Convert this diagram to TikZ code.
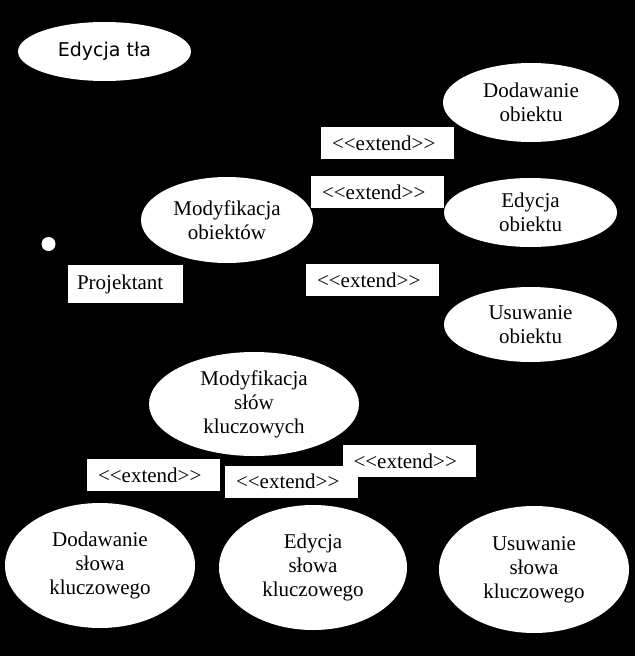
\documentclass[tikz,border=0pt]{standalone}
\usepackage{fontspec}
\setmainfont{LiberationSerif}[Extension=.ttf, UprightFont=*-Regular]
\newfontfamily\titlesans{DejaVu Sans}
\usetikzlibrary{shapes.geometric}
\newcommand{\extlbl}{<\kern0pt<extend>\kern0pt>}

\begin{document}
\begin{tikzpicture}[x=1pt, y=-1pt,
  usecase/.style={ellipse, fill=white, inner sep=0pt, align=center,
    font=\rmfamily\fontsize{21}{24}\selectfont},
  note/.style={fill=white, inner ysep=0pt, inner xsep=11pt, text width=111pt,
    minimum height=32pt, align=left, font=\rmfamily\fontsize{21}{24}\selectfont}]
  % Background
  \useasboundingbox (0,0) rectangle (635,656);
  \fill[black] (0,0) rectangle (635,656);
  % Background editing
  \node[usecase, minimum width=173pt, minimum height=59pt,
    font=\titlesans\fontsize{19}{23}\selectfont] (bgedit) at (104.5,51.5) {Edycja tła};
  % Actor
  \node[circle, fill=white, inner sep=0pt, minimum size=14pt] (head) at (48.5,244) {};
  \node[note, text width=97pt, inner xsep=9pt, minimum height=38pt] (actor) at (125.5,284) {Projektant};
  % Object use cases
  \node[usecase, minimum width=172pt, minimum height=86pt] (modobj) at (227,220) {Modyfikacja\\obiektów};
  \node[usecase, minimum width=176pt, minimum height=79pt] (addobj) at (531,102.5) {Dodawanie\\obiektu};
  \node[usecase, minimum width=173pt, minimum height=69pt] (editobj) at (530.5,212.5) {Edycja\\obiektu};
  \node[usecase, minimum width=173pt, minimum height=75pt] (delobj) at (530.5,324.5) {Usuwanie\\obiektu};
  \node[note] (extaddobj) at (387.5,143) {\extlbl};
  \node[note] (exteditobj) at (377.5,192) {\extlbl};
  \node[note] (extdelobj) at (372.5,280) {\extlbl};
  % Keyword use cases
  \node[usecase, minimum width=210pt, minimum height=104pt] (modkey) at (254,404) {Modyfikacja\\słów\\kluczowych};
  \node[usecase, minimum width=190pt, minimum height=125pt] (addkey) at (100,565.5) {Dodawanie\\słowa\\kluczowego};
  \node[usecase, minimum width=188pt, minimum height=125pt] (editkey) at (313,567.5) {Edycja\\słowa\\kluczowego};
  \node[usecase, minimum width=190pt, minimum height=127pt] (delkey) at (534,569.5) {Usuwanie\\słowa\\kluczowego};
  \node[note] (extaddkey) at (153.5,475) {\extlbl};
  \node[note] (extdelkey) at (409,461) {\extlbl};
  \node[note] (exteditkey) at (291.5,481.5) {\extlbl};
\end{tikzpicture}
\end{document}
